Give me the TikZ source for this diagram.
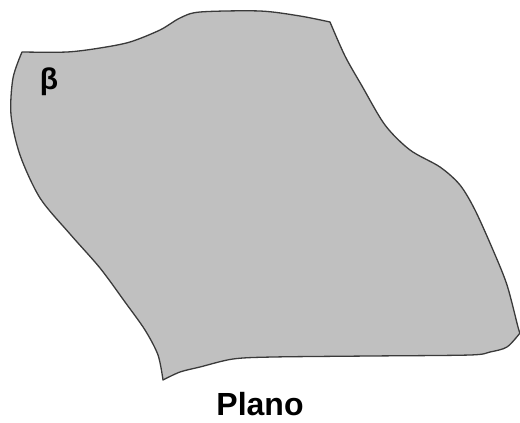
\documentclass[tikz,border=0pt]{standalone}
\usepackage{fontspec}
\setmainfont{Liberation Sans}
\usepackage{xcolor}
\definecolor{planefill}{HTML}{C0C0C0}
\definecolor{planeline}{HTML}{3A3A3A}

\begin{document}
\begin{tikzpicture}[x=1pt,y=-1pt]
\useasboundingbox (0,0) rectangle (520,423);
\filldraw[fill=planefill, draw=planeline, line width=1.3pt, line join=round]
    plot[smooth] coordinates {(22,52) (67,52) (100,48) (130,42) (160,30) (180,18) (200,12) (260,11) (300,16) (330,22)}
 -- plot[smooth] coordinates {(330,22) (345,56) (362,86) (385,125) (410,150) (440,167) (460,185) (475,210) (493,250) (507,285) (518,327) (520,333)}
 -- plot[smooth] coordinates {(520,333) (507,347) (490,352) (470,355) (370,356) (273,357) (233,359) (200,367) (180,372) (163,380)}
 -- plot[smooth] coordinates {(163,380) (158,355) (145,330) (125,302) (100,268) (70,234) (40,198) (20,155) (11,115) (13,78) (22,52)}
 -- cycle;
\node at(49,82)(beta){\fontsize{30}{32}\selectfont\bfseries β};
\node at(260,404)(plano){\fontsize{32}{34}\selectfont\bfseries Plano};
\end{tikzpicture}
\end{document}
